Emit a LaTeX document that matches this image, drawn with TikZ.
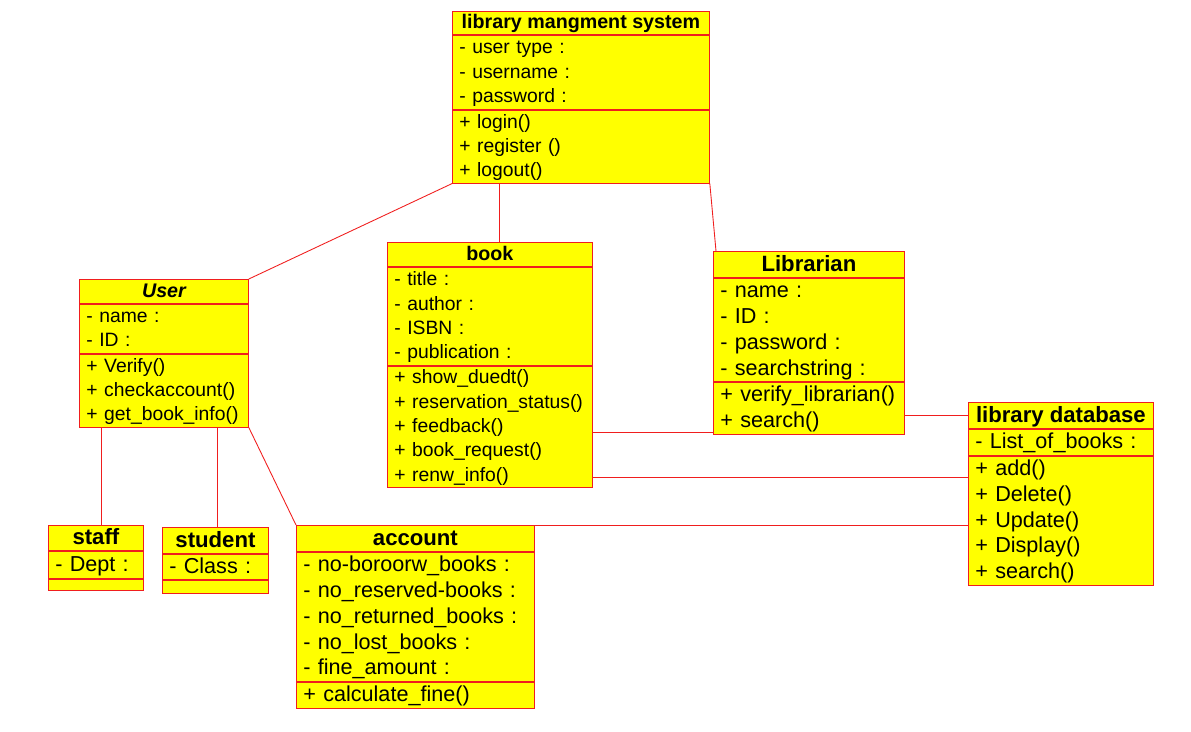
\documentclass[tikz,border=0pt]{standalone}
\usepackage{fontspec}
\setmainfont{Liberation Sans}
\definecolor{umlyellow}{RGB}{255,255,0}
\definecolor{umlred}{RGB}{240,30,30}

\begin{document}
\begin{tikzpicture}[x=0.02cm, y=-0.02cm]
	\tikzstyle{Box} = [rectangle, draw=umlred, line width=0.5pt, fill=umlyellow, anchor=north west, inner xsep=0.14cm, inner ysep=0pt]
	\tikzstyle{Text} = [Box, execute at begin node={\hyphenpenalty=10000\rule{0pt}{0.82em}}, execute at end node={\rule[-0.22em]{0pt}{0pt}}]
	\tikzstyle{Title} = [Text, inner xsep=0pt, align=center, font=\bfseries\fontsize{11.2}{13.9}\selectfont]
	\tikzstyle{Part} = [Text, align=left, font=\fontsize{11}{13.9}\selectfont]
	\tikzstyle{BigTitle} = [Text, inner xsep=0pt, align=center, font=\bfseries\fontsize{12.6}{14.7}\selectfont]
	\tikzstyle{BigPart} = [Text, align=left, font=\fontsize{12.3}{14.7}\selectfont]
	\tikzstyle{link} = [umlred, line width=0.5pt]
	
	\useasboundingbox (0,0) rectangle (1191,732);
	
	% library mangment system
	\node (lmsT) [Title, minimum width=5.14cm, minimum height=0.46cm] at (452,11) {library mangment system};
	\node (lmsA) [Part, text width=4.86cm, minimum height=1.48cm] at (lmsT.south west) {- user type :\\- username :\\- password :};
	\node (lmsO) [Part, text width=4.86cm, minimum height=1.46cm] at (lmsA.south west) {+ login()\\+ register ()\\+ logout()};
	
	% User
	\node (userT) [Title, minimum width=3.38cm, minimum height=0.48cm] at (79,279) {\itshape User};
	\node (userA) [Part, text width=3.10cm, minimum height=0.98cm] at (userT.south west) {- name :\\- ID :};
	\node (userO) [Part, text width=3.10cm, minimum height=1.46cm] at (userA.south west) {+ Verify()\\+ checkaccount()\\+ get\_book\_info()};
	
	% book
	\node (bookT) [Title, minimum width=4.10cm, minimum height=0.49cm] at (387,242) {book};
	\node (bookA) [Part, text width=3.82cm, minimum height=1.95cm] at (bookT.south west) {- title :\\- author :\\- ISBN :\\- publication :};
	\node (bookO) [Part, text width=3.82cm, minimum height=2.42cm] at (bookA.south west) {+ show\_duedt()\\+ reservation\_status()\\+ feedback()\\+ book\_request()\\+ renw\_info()};
	
	% Librarian
	\node (libT) [BigTitle, minimum width=3.82cm, minimum height=0.52cm] at (713,251) {Librarian};
	\node (libA) [BigPart, text width=3.54cm, minimum height=2.07cm] at (libT.south west) {- name :\\- ID :\\- password :\\- searchstring :};
	\node (libO) [BigPart, text width=3.54cm, minimum height=1.03cm] at (libA.south west) {+ verify\_librarian()\\+ search()};
	
	% library database
	\node (dbT) [BigTitle, minimum width=3.70cm, minimum height=0.52cm] at (968,402) {library database};
	\node (dbA) [BigPart, text width=3.42cm, minimum height=0.52cm] at (dbT.south west) {- List\_of\_books :};
	\node (dbO) [BigPart, text width=3.42cm, minimum height=2.58cm] at (dbA.south west) {+ add()\\+ Delete()\\+ Update()\\+ Display()\\+ search()};
	
	% staff
	\node (staffT) [BigTitle, minimum width=1.90cm, minimum height=0.51cm] at (48,525) {staff};
	\node (staffA) [BigPart, text width=1.62cm, minimum height=0.53cm] at (staffT.south west) {- Dept :};
	\node (staffO) [Box, minimum width=1.90cm, minimum height=0.22cm] at (staffA.south west) {};
	
	% student
	\node (studT) [BigTitle, minimum width=2.12cm, minimum height=0.52cm] at (162,527) {student};
	\node (studA) [BigPart, text width=1.84cm, minimum height=0.50cm] at (studT.south west) {- Class :};
	\node (studO) [Box, minimum width=2.12cm, minimum height=0.26cm] at (studA.south west) {};
	
	% account
	\node (accT) [BigTitle, minimum width=4.76cm, minimum height=0.52cm] at (296,525) {account};
	\node (accA) [BigPart, text width=4.48cm, minimum height=2.58cm] at (accT.south west) {- no-boroorw\_books :\\- no\_reserved-books :\\- no\_returned\_books :\\- no\_lost\_books :\\- fine\_amount :};
	\node (accO) [BigPart, text width=4.48cm, minimum height=0.52cm] at (accA.south west) {+ calculate\_fine()};
	
	% associations
	\draw [link] (lmsO.south west) -- (userT.north east);
	\draw [link] ([xshift=0.19cm]bookT.north) -- ([xshift=0.19cm]bookT.north |- lmsO.south);
	\draw [link] (lmsO.south east) -- ([xshift=0.06cm]libT.north west);
	\draw [link] ([xshift=0.12cm]staffT.north) -- ([xshift=0.12cm]staffT.north |- userO.south);
	\draw [link] ([xshift=0.05cm]studT.north) -- ([xshift=0.05cm]studT.north |- userO.south);
	\draw [link] (userO.south east) -- (accT.north west);
	\draw [link] ([yshift=-0.11cm]bookO.east) -- ([yshift=-0.11cm]bookO.east -| libO.west);
	\draw [link] ([yshift=-1.01cm]bookO.east) -- ([yshift=-1.01cm]bookO.east -| dbO.west);
	\draw [link] (dbT.west) -- (dbT.west -| libO.east);
	\draw [link] (accT.north east) -- (accT.north east -| dbO.west);
\end{tikzpicture}
\end{document}
